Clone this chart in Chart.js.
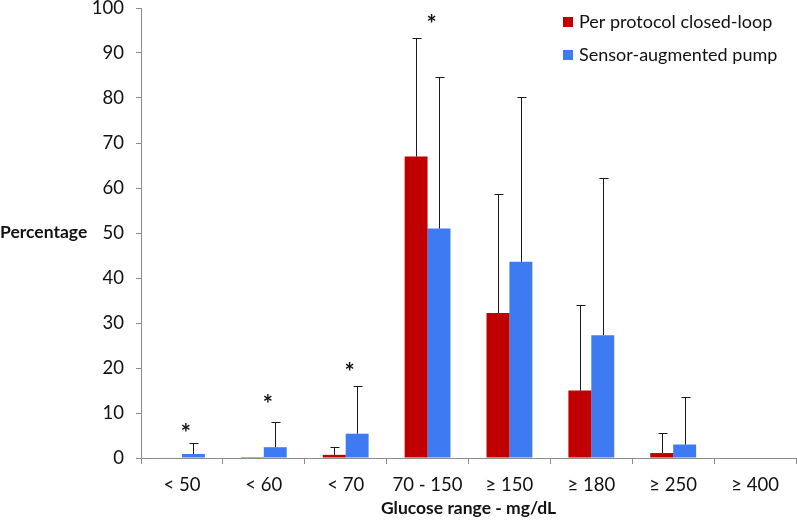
<!DOCTYPE html>
<html>
<head>
<meta charset="utf-8">
<script src="https://cdn.jsdelivr.net/npm/chart.js@4"></script>
<style>
  body { margin: 0; background: #fff; }
</style>
</head>
<body>
<canvas id="chart" width="797" height="520"></canvas>
<script>
// Glucose ranges on the x axis
const ranges = ["< 50", "< 60", "< 70", "70 - 150", "\u2265 150", "\u2265 180", "\u2265 250", "\u2265 400"];

// Mean percentages
const closedLoop = [0.1, 0.2, 0.7, 67, 32.2, 15, 1.1, 0];
const sensorPump = [0.9, 2.4, 5.4, 51, 43.6, 27.3, 3, 0];

// Upper end of the error bars (mean + SD)
const closedLoopErr = [null, null, 2.5, 93.3, 58.6, 34.1, 5.5, null];
const sensorPumpErr = [3.4, 8.0, 16, 84.6, 80.2, 62.3, 13.5, null];

// Where the significance asterisks sit (value on the y axis)
const asteriskAt = [6.4, 12.9, 20, 97.3, null, null, null, null];

const yTicks = [0, 10, 20, 30, 40, 50, 60, 70, 80, 90, 100];

const FONT = "Lato, 'Open Sans', sans-serif";

// Draws the upward error bars, the asterisks, the legend and the y title
const extras = {
    id: "extras",
    afterDatasetsDraw(chart) {
        const ctx = chart.ctx;
        const y = chart.scales.y;
        const x = chart.scales.x;
        const errs = [closedLoopErr, sensorPumpErr];

        ctx.save();
        ctx.strokeStyle = "#1a1a1a";
        ctx.lineWidth = 1;
        chart.data.datasets.forEach((ds, d) => {
            const meta = chart.getDatasetMeta(d);
            meta.data.forEach((bar, i) => {
                const top = errs[d][i];
                if (top == null) return;
                const px = Math.round(bar.x) + 0.5;
                const py = Math.round(y.getPixelForValue(top)) + 0.5;
                ctx.beginPath();
                ctx.moveTo(px, bar.y);
                ctx.lineTo(px, py);
                ctx.moveTo(px - 4, py);
                ctx.lineTo(px + 5, py);
                ctx.stroke();
            });
        });

        // asterisks
        ctx.fillStyle = "#111";
        ctx.font = "bold 24px " + FONT;
        ctx.textAlign = "center";
        ctx.textBaseline = "middle";
        asteriskAt.forEach((v, i) => {
            if (v == null) return;
            ctx.fillText("*", x.getPixelForValue(i) + 4, y.getPixelForValue(v) + 5);
        });

        // legend
        ctx.font = "18px " + FONT;
        ctx.textAlign = "left";
        chart.data.datasets.forEach((ds, d) => {
            const ly = 22 + d * 33;
            ctx.fillStyle = ds.backgroundColor;
            ctx.fillRect(563, ly - 5, 10, 10);
            ctx.fillStyle = "#111";
            ctx.fillText(ds.label, 579, ly);
        });

        // horizontal y-axis title
        ctx.font = "bold 17.5px " + FONT;
        ctx.textAlign = "left";
        ctx.fillText("Percentage", 0, 232);
        ctx.restore();
    }
};

new Chart(document.getElementById("chart"), {
    type: "bar",
    data: {
        labels: ranges,
        datasets: [
            {
                label: "Per protocol closed-loop",
                data: closedLoop,
                backgroundColor: "#C00000",
                categoryPercentage: 0.56,
                barPercentage: 1
            },
            {
                label: "Sensor-augmented pump",
                data: sensorPump,
                backgroundColor: "#3E7BF3",
                categoryPercentage: 0.56,
                barPercentage: 1
            }
        ]
    },
    options: {
        responsive: false,
        animation: false,
        layout: { padding: { top: 0, right: 1, left: 0, bottom: 0 } },
        plugins: {
            legend: { display: false },
            tooltip: { enabled: false }
        },
        scales: {
            x: {
                grid: {
                    drawOnChartArea: false,
                    drawTicks: true,
                    tickLength: 6,
                    color: "#8c8c8c"
                },
                border: { color: "#8c8c8c" },
                ticks: {
                    color: "#111",
                    font: { family: FONT, size: 18.5 },
                    padding: 10,
                    maxRotation: 0
                },
                title: {
                    display: true,
                    text: "Glucose range - mg/dL",
                    color: "#111",
                    font: { family: FONT, size: 17.5, weight: "bold" },
                    padding: { top: 10, bottom: 1 }
                },
                afterFit(scale) {
                    scale.height = 62;
                    scale.paddingLeft = 0;
                    scale.paddingRight = 0;
                }
            },
            y: {
                min: 0,
                max: 100,
                afterBuildTicks(scale) {
                    scale.ticks = yTicks.map(v => ({ value: v }));
                },
                grid: {
                    drawOnChartArea: false,
                    drawTicks: true,
                    tickLength: 5,
                    color: "#8c8c8c"
                },
                border: { color: "#8c8c8c" },
                ticks: {
                    color: "#111",
                    font: { family: FONT, size: 18.5 },
                    padding: 12
                },
                afterFit(scale) {
                    scale.width = 141;
                    scale.paddingTop = 8;
                    scale.paddingBottom = 0;
                }
            }
        }
    },
    plugins: [extras]
});
</script>
</body>
</html>
